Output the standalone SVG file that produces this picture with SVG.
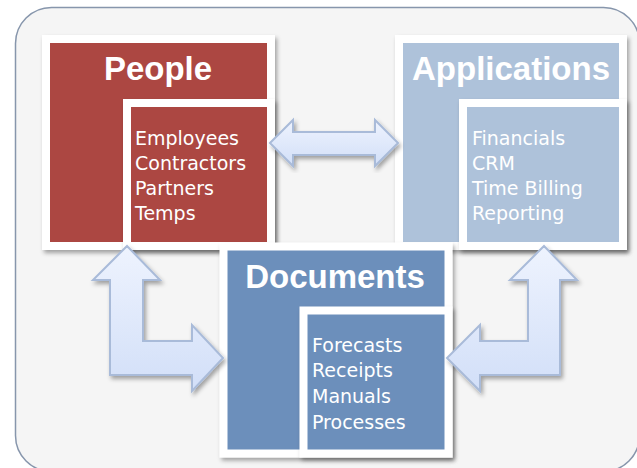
<svg xmlns="http://www.w3.org/2000/svg" width="637" height="468" viewBox="0 0 637 468">
  <defs>
    <filter id="sh" x="-10%" y="-10%" width="125%" height="125%">
      <feDropShadow dx="2" dy="3" stdDeviation="2" flood-color="#000" flood-opacity="0.35"/>
    </filter>
    <linearGradient id="ag" x1="0" y1="0" x2="0" y2="1">
      <stop offset="0" stop-color="#eef3fe"/>
      <stop offset="1" stop-color="#d2dff8"/>
    </linearGradient>
    <style>
      .frame { stroke: #ffffff; stroke-width: 8; filter: url(#sh); }
      .red { fill: #ac4743; }
      .lblue { fill: #aec2da; }
      .dblue { fill: #6c8fbb; }
      .title { font-family: "Liberation Sans", Arial, sans-serif; font-weight: bold; font-size: 33px; fill: #ffffff; text-anchor: middle; }
      .body { font-family: "DejaVu Sans", Verdana, sans-serif; font-size: 19px; fill: #ffffff; }
      .arrow { fill: url(#ag); stroke: #a9bbd9; stroke-width: 2; stroke-linejoin: miter; filter: url(#sh); }
    </style>
  </defs>

  <rect x="15.5" y="7.5" width="624" height="464" rx="36" ry="36" fill="#f5f5f5" stroke="#8796ac" stroke-width="1.5"/>

  <g id="people">
    <rect class="frame red" x="46" y="39" width="225" height="207"/>
    <text class="title" x="158" y="80">People</text>
    <rect class="frame red" x="127" y="103" width="144" height="143"/>
    <text class="body" x="135" y="145">Employees</text>
    <text class="body" x="135" y="170">Contractors</text>
    <text class="body" x="135" y="195">Partners</text>
    <text class="body" x="135" y="220">Temps</text>
  </g>

  <g id="applications">
    <rect class="frame lblue" x="399" y="39" width="224" height="207"/>
    <text class="title" x="511" y="80">Applications</text>
    <rect class="frame lblue" x="463" y="103" width="160" height="143"/>
    <text class="body" x="472" y="145">Financials</text>
    <text class="body" x="472" y="170">CRM</text>
    <text class="body" x="472" y="195">Time Billing</text>
    <text class="body" x="472" y="220">Reporting</text>
  </g>

  <g id="documents">
    <rect class="frame dblue" x="223.5" y="246.5" width="225" height="207" stroke-width="7"/>
    <text class="title" x="335" y="288">Documents</text>
    <rect class="frame dblue" x="303.5" y="310.5" width="145" height="143" stroke-width="7"/>
    <text class="body" x="312" y="352">Forecasts</text>
    <text class="body" x="312" y="377">Receipts</text>
    <text class="body" x="312" y="403">Manuals</text>
    <text class="body" x="312" y="429">Processes</text>
  </g>

  <g id="connectors">
    <polygon class="arrow" points="270,143 293,120 293,132 375,132 375,120 398,143 375,166 375,155 293,155 293,166"/>
    <polygon class="arrow" points="127,246 160,280 143,280 143,341 192,341 192,325 223,358 192,391 192,375 110,375 110,280 93,280"/>
    <polygon class="arrow" points="544,246 577,280 560,280 560,375 480,375 480,391 447,358 480,325 480,341 528,341 528,280 510,280"/>
  </g>
</svg>
